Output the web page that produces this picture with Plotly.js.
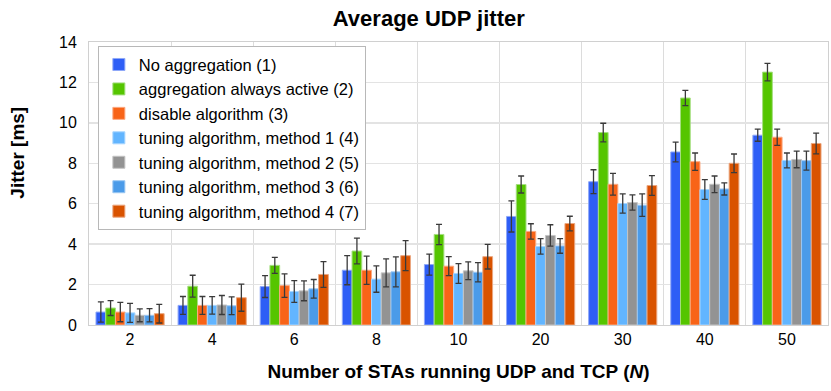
<!DOCTYPE html>
<html>
<head>
<meta charset="utf-8">
<script src="https://cdn.plot.ly/plotly-3.0.1.min.js"></script>
<style>
  html, body { margin: 0; padding: 0; background: #ffffff; }
  #chart { width: 831px; height: 391px; }
</style>
</head>
<body>
<div id="chart"></div>
<script>
// -- Data ---------------------------------------------------------------------
var categories = ['2', '4', '6', '8', '10', '20', '30', '40', '50'];

var seriesNames = [
  'No aggregation (1)',
  'aggregation always active (2)',
  'disable algorithm (3)',
  'tuning algorithm, method 1 (4)',
  'tuning algorithm, method 2 (5)',
  'tuning algorithm, method 3 (6)',
  'tuning algorithm, method 4 (7)'
];

var noAggregation   = [0.64, 0.97, 1.90, 2.71, 2.99, 5.37, 7.09, 8.56, 9.39];
var alwaysActive    = [0.84, 1.92, 2.95, 3.66, 4.48, 6.95, 9.52, 11.23, 12.51];
var disableAlgo     = [0.64, 0.97, 1.95, 2.71, 2.91, 4.63, 6.96, 8.08, 9.29];
var tuningMethod1   = [0.60, 0.97, 1.66, 2.27, 2.55, 3.89, 6.01, 6.70, 8.14];
var tuningMethod2   = [0.48, 0.99, 1.69, 2.58, 2.68, 4.43, 6.06, 6.96, 8.19];
var tuningMethod3   = [0.48, 0.95, 1.79, 2.63, 2.61, 3.91, 5.93, 6.73, 8.13];
var tuningMethod4   = [0.56, 1.35, 2.50, 3.43, 3.38, 5.02, 6.90, 8.00, 8.98];

var errNoAggregation = [0.50, 0.44, 0.54, 0.72, 0.52, 0.77, 0.59, 0.49, 0.30];
var errAlwaysActive  = [0.37, 0.54, 0.40, 0.64, 0.50, 0.42, 0.46, 0.38, 0.43];
var errDisableAlgo   = [0.48, 0.44, 0.58, 0.70, 0.47, 0.38, 0.54, 0.43, 0.40];
var errTuning1       = [0.47, 0.43, 0.54, 0.65, 0.49, 0.38, 0.48, 0.49, 0.37];
var errTuning2       = [0.32, 0.47, 0.49, 0.69, 0.44, 0.53, 0.38, 0.41, 0.41];
var errTuning3       = [0.33, 0.44, 0.46, 0.74, 0.48, 0.36, 0.56, 0.30, 0.47];
var errTuning4       = [0.46, 0.67, 0.64, 0.74, 0.61, 0.36, 0.49, 0.46, 0.51];

// -- Theme --------------------------------------------------------------------
var FONT = 'Liberation Sans, Arial, sans-serif';
var COLORS = ['#2E5EF6', '#55C500', '#F86418', '#62B5FF', '#939393', '#4B9BE9', '#D95300'];
var OUTLINES = ['#8FA8F8', '#A5DE80', '#FBAA82', '#A8D6FF', '#C4C4C4', '#9CC7F2', '#EBA67F'];

var values = [noAggregation, alwaysActive, disableAlgo, tuningMethod1, tuningMethod2, tuningMethod3, tuningMethod4];
var errors = [errNoAggregation, errAlwaysActive, errDisableAlgo, errTuning1, errTuning2, errTuning3, errTuning4];

var traces = [];
for (var s = 0; s < values.length; s++) {
  traces.push({
    type: 'bar',
    name: seriesNames[s],
    x: categories,
    y: values[s],
    marker: { color: COLORS[s], line: { color: OUTLINES[s], width: 1 } },
    error_y: {
      type: 'data',
      array: errors[s],
      visible: true,
      color: '#3a3a3a',
      thickness: 1.3,
      width: 3
    }
  });
}

var layout = {
  width: 831,
  height: 391,
  paper_bgcolor: '#ffffff',
  plot_bgcolor: '#ffffff',
  margin: { l: 89, r: 3, t: 42, b: 66 },
  font: { family: FONT, color: '#000000', size: 16 },
  barmode: 'group',
  bargap: 0.17,
  bargroupgap: 0,
  title: {
    text: '<b>Average UDP jitter</b>',
    font: { family: FONT, size: 22, color: '#000000' },
    x: 0.516, xanchor: 'center',
    y: 0.952, yanchor: 'middle'
  },
  xaxis: {
    type: 'category',
    tickson: 'boundaries',
    showgrid: true,
    gridcolor: '#dcdcdc',
    gridwidth: 1,
    ticks: '',
    showline: true,
    linecolor: '#d0d0d0',
    mirror: true,
    tickfont: { family: FONT, size: 16, color: '#000000' },
    title: {
      text: '<b>Number of STAs running UDP and TCP (<i>N</i>)</b>',
      font: { family: FONT, size: 19, color: '#000000' },
      standoff: 17
    }
  },
  yaxis: {
    range: [0, 14],
    dtick: 2,
    showgrid: true,
    gridcolor: '#e3e3e3',
    gridwidth: 1.5,
    zeroline: false,
    showline: true,
    linecolor: '#d0d0d0',
    mirror: true,
    ticks: '',
    ticklabelstandoff: 8,
    tickfont: { family: FONT, size: 16, color: '#000000' }
  },
  // y-axis title sits left of the ticks and above the plot's centre, as in the original
  annotations: [{
    text: '<b>Jitter [ms]</b>',
    textangle: -90,
    font: { family: FONT, size: 19, color: '#000000' },
    xref: 'paper', yref: 'paper',
    x: -0.097, xanchor: 'center',
    y: 0.61, yanchor: 'middle',
    showarrow: false
  }],
  showlegend: true,
  legend: {
    x: 0.012, y: 0.985,
    xanchor: 'left', yanchor: 'top',
    bgcolor: '#ffffff',
    bordercolor: '#b8b8b8',
    borderwidth: 1,
    itemwidth: 30,
    tracegroupgap: 0,
    font: { family: FONT, size: 16.5, color: '#000000' }
  }
};

Plotly.newPlot('chart', traces, layout, { displayModeBar: false, staticPlot: true });
</script>
</body>
</html>
